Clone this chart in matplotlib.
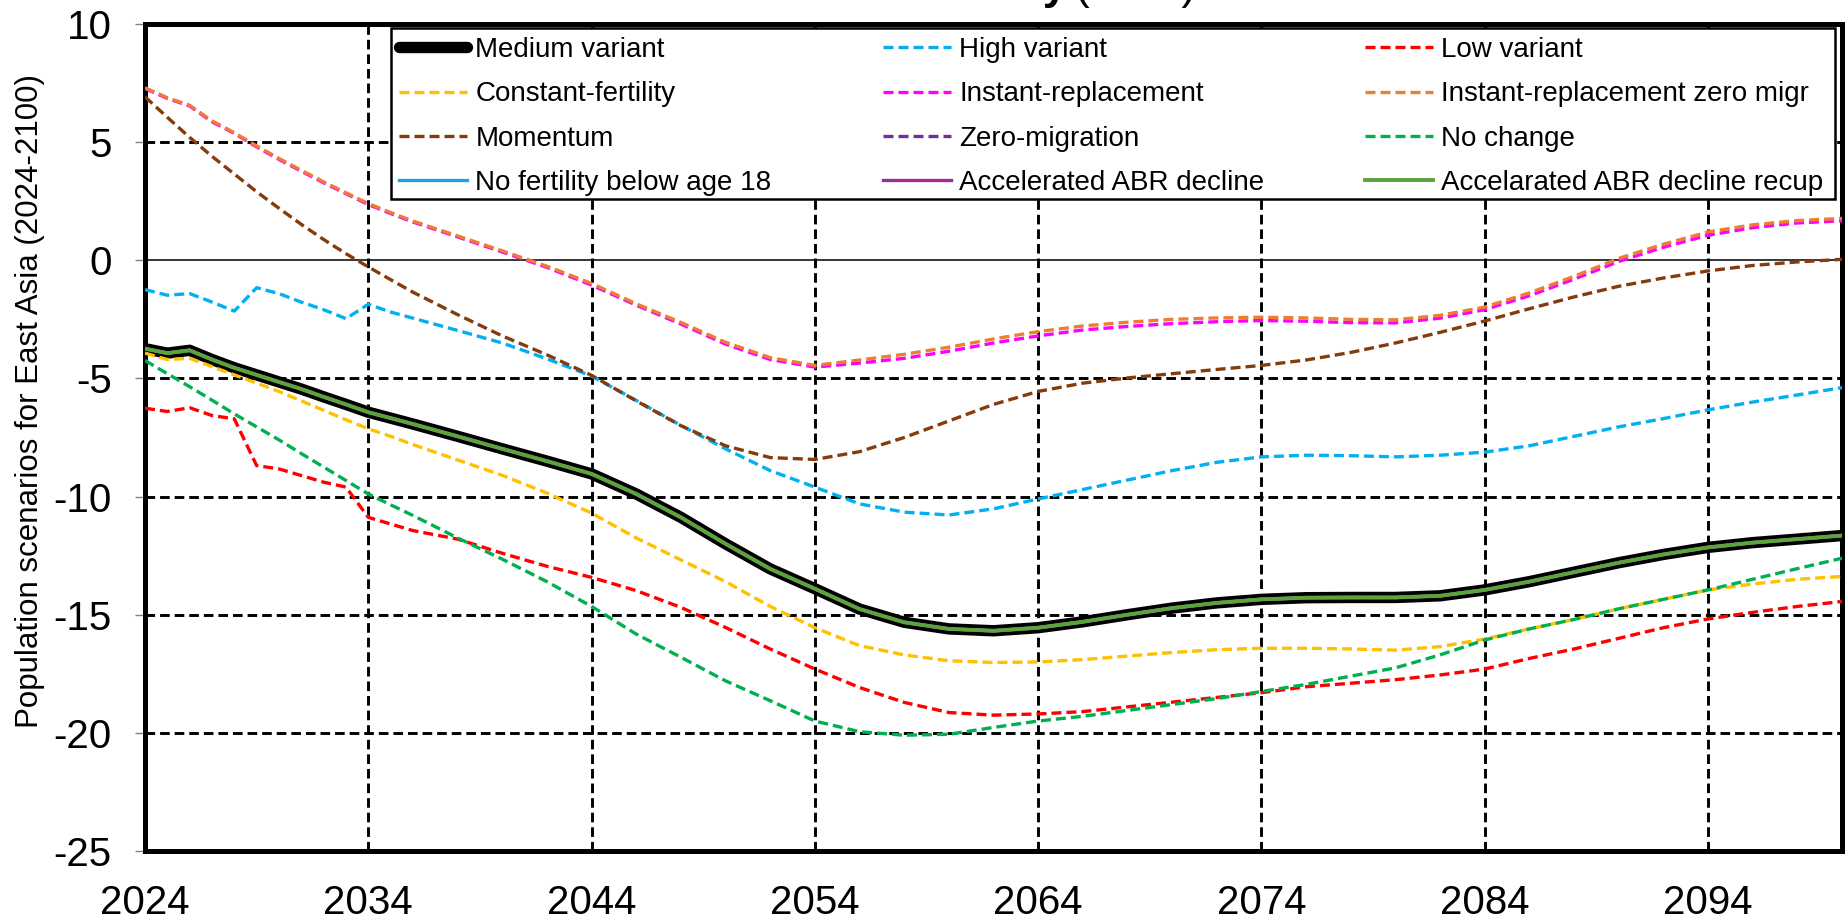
import matplotlib.pyplot as plt
from matplotlib.patches import Rectangle

plt.rcParams['font.family'] = ['Liberation Sans', 'DejaVu Sans']
plt.rcParams['axes.unicode_minus'] = False

# years (yearly to 2036, then every 2 years)
years = list(range(2024, 2037)) + list(range(2038, 2101, 2))

medium = [-3.74, -3.93, -3.81, -4.2, -4.55, -4.85, -5.15, -5.45, -5.78, -6.1, -6.43, -6.68, -6.93,
          -7.45, -7.98, -8.5, -9.04, -9.89, -10.88, -12.0, -13.06, -13.9, -14.76, -15.32, -15.6,
          -15.68, -15.55, -15.3, -15.0, -14.72, -14.5, -14.35, -14.28, -14.27, -14.27, -14.2,
          -13.95, -13.6, -13.2, -12.8, -12.45, -12.15, -11.95, -11.8, -11.65]
high = [-1.24, -1.48, -1.41, -1.77, -2.15, -1.16, -1.41, -1.77, -2.09, -2.47, -1.86, -2.19, -2.45,
        -2.97, -3.5, -4.17, -4.9, -5.93, -6.99, -7.98, -8.9, -9.6, -10.31, -10.66, -10.78,
        -10.52, -10.1, -9.7, -9.3, -8.9, -8.55, -8.32, -8.25, -8.27, -8.32, -8.25,
        -8.12, -7.85, -7.45, -7.05, -6.7, -6.33, -6.0, -5.7, -5.39]
low = [-6.26, -6.4, -6.24, -6.57, -6.71, -8.69, -8.83, -9.11, -9.39, -9.6, -10.88, -11.16, -11.44,
       -11.8, -12.4, -12.95, -13.42, -13.98, -14.69, -15.54, -16.45, -17.3, -18.08, -18.71, -19.14,
       -19.25, -19.2, -19.1, -18.9, -18.7, -18.5, -18.3, -18.05, -17.9, -17.75, -17.55,
       -17.3, -16.85, -16.45, -16.0, -15.55, -15.18, -14.9, -14.65, -14.44]
constant_fert = [-3.93, -4.2, -4.15, -4.5, -4.85, -5.2, -5.55, -5.95, -6.35, -6.75, -7.13, -7.45, -7.8,
                 -8.45, -9.1, -9.85, -10.7, -11.75, -12.68, -13.6, -14.65, -15.55, -16.31, -16.7, -16.95,
                 -17.02, -17.0, -16.9, -16.75, -16.6, -16.48, -16.42, -16.42, -16.45, -16.5, -16.35,
                 -16.03, -15.6, -15.2, -14.75, -14.35, -13.95, -13.7, -13.5, -13.38]
instant_repl = [7.27, 6.85, 6.53, 5.86, 5.37, 4.8, 4.27, 3.77, 3.28, 2.82, 2.36, 1.98, 1.62,
                0.99, 0.35, -0.3, -1.05, -1.9, -2.7, -3.55, -4.2, -4.52, -4.35, -4.15, -3.85,
                -3.5, -3.2, -2.95, -2.8, -2.68, -2.6, -2.55, -2.58, -2.64, -2.65, -2.45,
                -2.09, -1.5, -0.8, -0.05, 0.55, 1.06, 1.38, 1.58, 1.67]
instant_repl_zm = [7.3, 6.88, 6.56, 5.9, 5.4, 4.84, 4.31, 3.81, 3.32, 2.86, 2.4, 2.02, 1.66,
                   1.03, 0.4, -0.25, -0.98, -1.84, -2.63, -3.47, -4.12, -4.45, -4.22, -3.98, -3.68,
                   -3.33, -3.02, -2.78, -2.62, -2.5, -2.44, -2.41, -2.44, -2.5, -2.52, -2.33,
                   -1.98, -1.38, -0.68, 0.08, 0.68, 1.2, 1.5, 1.68, 1.77]
momentum = [6.92, 6.05, 5.2, 4.4, 3.65, 2.9, 2.2, 1.52, 0.88, 0.28, -0.28, -0.82, -1.35,
            -2.3, -3.2, -4.0, -4.87, -5.95, -7.0, -7.85, -8.35, -8.43, -8.1, -7.5, -6.8,
            -6.1, -5.55, -5.2, -4.98, -4.8, -4.62, -4.45, -4.22, -3.9, -3.5, -3.05,
            -2.57, -2.05, -1.55, -1.1, -0.75, -0.45, -0.22, -0.07, 0.04]
no_change = [-4.24, -4.8, -5.35, -5.92, -6.5, -7.05, -7.6, -8.18, -8.75, -9.32, -9.89, -10.35, -10.8,
             -11.75, -12.65, -13.6, -14.65, -15.82, -16.8, -17.8, -18.64, -19.5, -19.95, -20.1, -20.06,
             -19.77, -19.5, -19.3, -19.05, -18.8, -18.55, -18.25, -17.95, -17.6, -17.25, -16.7,
             -16.07, -15.6, -15.2, -14.75, -14.35, -13.95, -13.5, -13.05, -12.61]
# these four sit on top of the medium variant in the picture
zero_migration = list(medium)
no_fert_18 = list(medium)
accel_abr = list(medium)
accel_abr_recup = list(medium)

W, H = 1845, 921
fig = plt.figure(figsize=(W / 100, H / 100), dpi=100)
ax = fig.add_axes([145 / W, 1 - 851 / H, (1842 - 145) / W, (851 - 24) / H])

dash = (0, (3, 1.5))
lw = 2.4
h_med, = ax.plot(years, medium, color='black', lw=8.2, solid_capstyle='round', label='Medium variant', zorder=3)
h_high, = ax.plot(years, high, color='#00B0F0', lw=lw, ls=dash, label='High variant', zorder=3)
h_low, = ax.plot(years, low, color='#FF0000', lw=lw, ls=dash, label='Low variant', zorder=3)
h_const, = ax.plot(years, constant_fert, color='#FFC000', lw=lw, ls=dash, label='Constant-fertility', zorder=3)
h_inst, = ax.plot(years, instant_repl, color='#FF00FF', lw=lw, ls=dash, label='Instant-replacement', zorder=3)
h_instzm, = ax.plot(years, instant_repl_zm, color='#ED7D31', lw=lw, ls=dash,
                    label='Instant-replacement zero migr', zorder=3)
h_mom, = ax.plot(years, momentum, color='#843C0C', lw=lw, ls=dash, label='Momentum', zorder=3)
h_zm, = ax.plot(years, zero_migration, color='#7030A0', lw=lw, ls=dash, label='Zero-migration', zorder=3)
h_nc, = ax.plot(years, no_change, color='#00B050', lw=lw, ls=dash, label='No change', zorder=3)
h_nf, = ax.plot(years, no_fert_18, color='#1FA3DC', lw=lw, label='No fertility below age 18', zorder=3)
h_abr, = ax.plot(years, accel_abr, color='#A02B93', lw=lw, label='Accelerated ABR decline', zorder=3)
h_rec, = ax.plot(years, accel_abr_recup, color='#5BA33A', lw=2.8, label='Accelarated ABR decline recup', zorder=3)

xticks = list(range(2024, 2100, 10))
yticks = list(range(-25, 11, 5))
ax.set_xlim(2024, 2100)
ax.set_ylim(-25, 10)
ax.set_xticks(xticks)
ax.set_yticks(yticks)

grid_style = dict(color='black', lw=2.1, ls=(0, (3.3, 1.7)), zorder=1)
for xv in xticks[1:]:
    ax.axvline(xv, **grid_style)
for yv in yticks[1:-1]:
    if yv == 0:
        ax.axhline(yv, color='black', lw=1.1, zorder=1)
    else:
        ax.axhline(yv, **grid_style)

for s in ax.spines.values():
    s.set_linewidth(3.6)
ax.tick_params(axis='y', length=7, width=1, color='#808080', pad=17, labelsize=29)
ax.tick_params(axis='x', length=0, pad=24, labelsize=29)

ax.set_ylabel('Population scenarios for East Asia (2024-2100)', fontsize=22.5)
ax.yaxis.set_label_coords(-0.0589, 0.544)

# legend: three columns of equal width inside one frame
frame = Rectangle((391 / W, 1 - 199 / H), (1835 - 391) / W, (199 - 28) / H, transform=fig.transFigure,
                  facecolor='white', edgecolor='black', lw=1.8, zorder=4)
fig.add_artist(frame)
columns = [
    ([h_med, h_const, h_mom, h_nf], 399),
    ([h_high, h_inst, h_zm, h_abr], 883),
    ([h_low, h_instzm, h_nc, h_rec], 1365),
]
for handles, x0 in columns:
    fig.legend(handles=handles, loc='upper left', bbox_to_anchor=(x0 / W, 1 - 37 / H),
               frameon=False, fontsize=20, handlelength=2.45, handletextpad=0.3,
               labelspacing=0.66, borderpad=0, borderaxespad=0)

# title, mostly cut off at the top edge of the image
fig.text(1068 / W, 1 + 1 / H, 'East Asia Sensitivity', fontsize=32, fontweight='bold',
         ha='right', va='baseline')
fig.text(1075 / W, 1 + 1 / H, '(in ‰)', fontsize=32, ha='left', va='baseline')

fig.savefig('out.png', dpi=100)
